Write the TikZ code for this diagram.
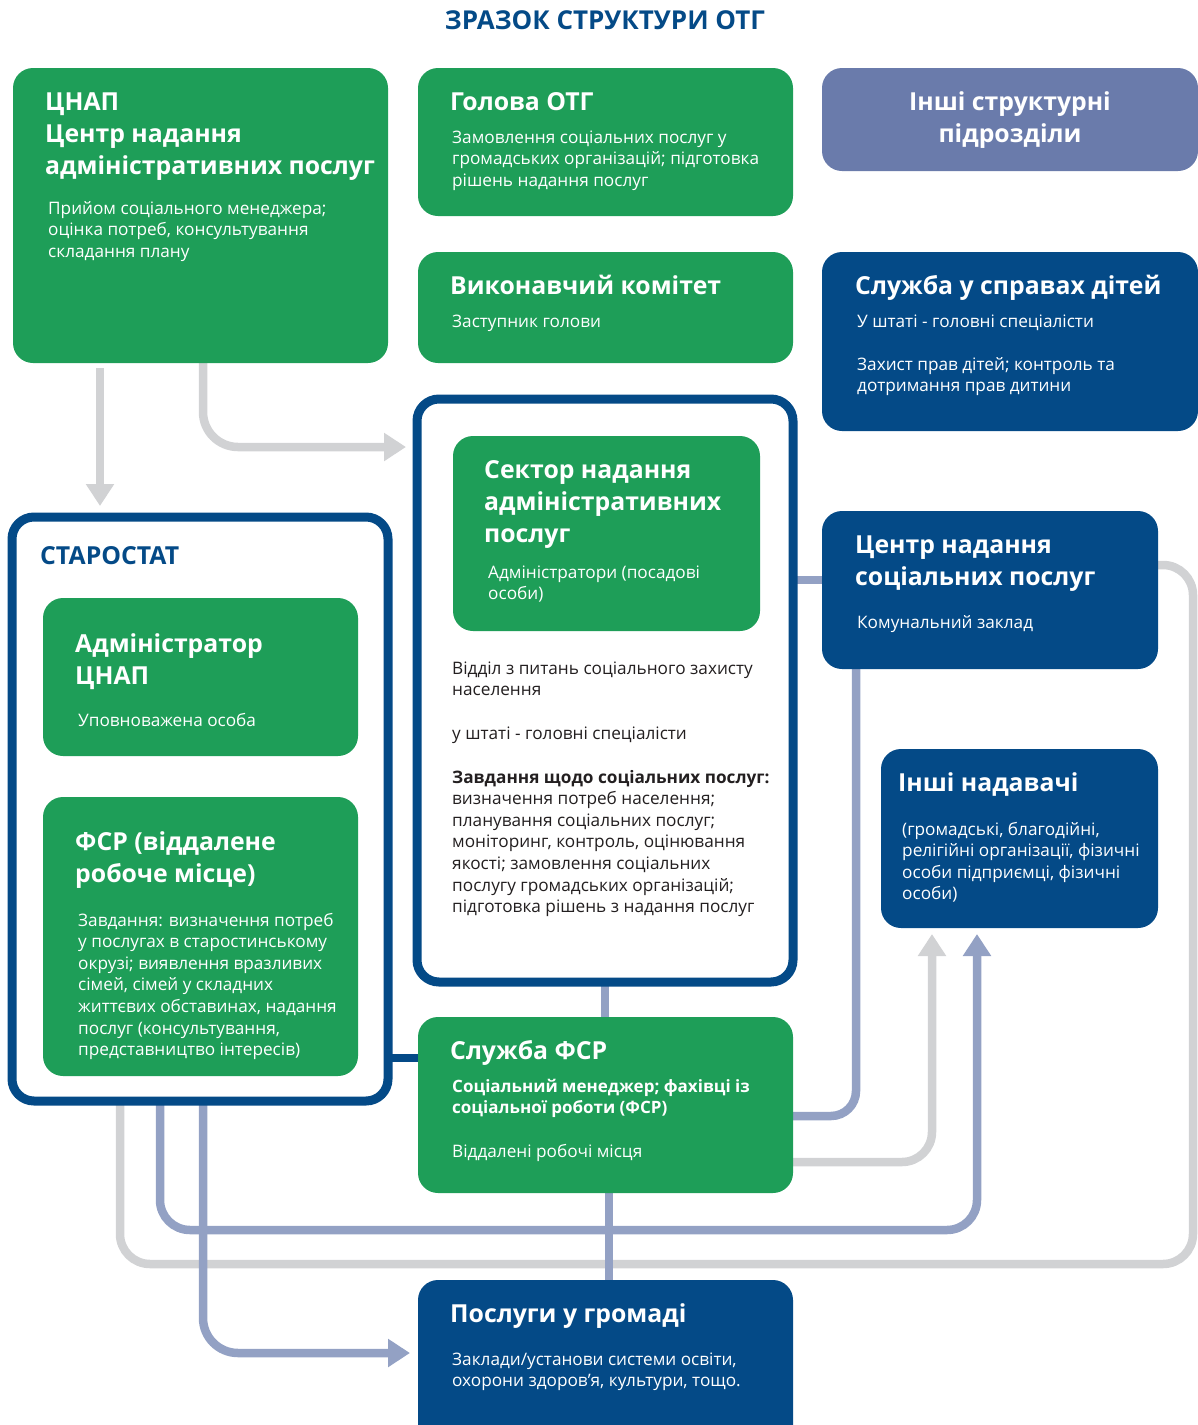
\documentclass[tikz,border=0pt]{standalone}
\usepackage{fontspec}
\setmainfont{Open Sans}
\usetikzlibrary{arrows.meta,calc}
\pgfdeclarelayer{bg}
\pgfsetlayers{bg,main}
\definecolor{gr}{HTML}{1E9E58}
\definecolor{db}{HTML}{044A87}
\definecolor{pb}{HTML}{6A7BAB}
\definecolor{pl}{HTML}{93A1C4}
\definecolor{gl}{HTML}{D1D2D4}
\definecolor{tx}{HTML}{231F20}
\newcommand{\ml}[1]{\begin{tabular}[t]{@{}l@{}}#1\end{tabular}}
\newcommand{\mc}[1]{\begin{tabular}[t]{@{}c@{}}#1\end{tabular}}
\begin{document}
\begin{tikzpicture}[x=1pt,y=-1pt,
  box/.style={rectangle, rounded corners=20pt, inner sep=0pt, outer sep=0pt, draw=none},
  gbox/.style={box, fill=gr},
  bbox/.style={box, fill=db},
  obox/.style={rectangle, rounded corners=22pt, inner sep=0pt, outer sep=0pt, draw=db, line width=9pt, fill=white},
  tl/.style={anchor=base west, inner sep=0pt, text=white, font=\bfseries\fontsize{24.8}{32}\selectfont},
  bd/.style={anchor=base west, inner sep=0pt, text=white, font=\fontsize{17.2}{21.6}\selectfont},
  bdk/.style={bd, text=tx},
  gline/.style={draw=gl, line width=8.5pt},
  pline/.style={draw=pl, line width=8.5pt},
  dline/.style={draw=db, line width=8pt},
  garr/.style={gline, -{Triangle[width=27pt,length=22pt]}},
  parr/.style={pline, -{Triangle[width=27pt,length=22pt]}},
]
\useasboundingbox (0,0) rectangle (1198,1425);

% boxes
\path
  node[gbox, minimum width=375, minimum height=295] (cnap) at (200.5,215.5) {}
  node[gbox, minimum width=375, minimum height=148] (golova) at (605.5,142) {}
  node[box, fill=pb, minimum width=376, minimum height=103] (inshi) at (1010,119.5) {}
  node[gbox, minimum width=375, minimum height=111] (vykon) at (605.5,307.5) {}
  node[bbox, minimum width=376, minimum height=179] (sdit) at (1010,341.5) {}
  node[obox, minimum width=376, minimum height=583] (cont) at (605,690.5) {}
  node[gbox, minimum width=307, minimum height=195] (sektor) at (606.5,533.5) {}
  node[bbox, minimum width=336, minimum height=158] (centr) at (990,590) {}
  node[obox, minimum width=376, minimum height=584] (staro) at (200,809) {}
  node[gbox, minimum width=315, minimum height=158] (admin) at (200.5,677) {}
  node[gbox, minimum width=315, minimum height=279] (fsr) at (200.5,936.5) {}
  node[bbox, minimum width=277, minimum height=179] (inad) at (1019.5,838.5) {}
  node[gbox, minimum width=375, minimum height=176] (sfsr) at (605.5,1105) {}
  node[bbox, minimum width=375, minimum height=165] (posl) at (605.5,1362.5) {};

% connectors
\begin{pgfonlayer}{bg}
  % grey
  \draw[gline, rounded corners=30pt] ($(staro.south west)+(108,0)$) |- ($(centr.south east)+(35,595)$) |- ($(centr.north east)+(0,54)$);
  \draw[garr, rounded corners=30pt] ($(sfsr.north east)+(0,145)$) -| ($(inad.south west)+(51,6)$);
  \draw[garr] ($(cnap.south west)+(87,5)$) -- ($(staro.north west)+(88,-11)$);
  \draw[garr, rounded corners=35pt] ($(cnap.south west)+(190,0)$) |- ($(cont.north west)+(-11,48)$);
  % purple
  \coordinate (pC) at ($(centr.north west)+(0,69)$);
  \draw[pline] (cont.east |- pC) -- (pC);
  \draw[pline] (cont.south) -- (cont.south |- sfsr.north);
  \coordinate (fA) at ($(sfsr.south)+(3.5,0)$);
  \draw[pline] (fA) -- (fA |- posl.north);
  \draw[pline, rounded corners=25pt] ($(sfsr.north east)+(0,99)$) -| ($(centr.south west)+(34,0)$);
  \draw[parr, rounded corners=30pt] ($(staro.south west)+(148,0)$) |- ($(inad.south west)+(96,302)$) -- ($(inad.south west)+(96,6)$);
  \draw[parr, rounded corners=35pt] ($(staro.south west)+(191,0)$) |- ($(posl.north west)+(-8,73)$);
  % dark
  \coordinate (dD) at ($(sfsr.north west)+(0,41)$);
  \draw[dline] (staro.east |- dD) -- (dD);
\end{pgfonlayer}

% texts
\node[anchor=base, inner sep=0pt, text=db, font=\bfseries\fontsize{26}{30}\selectfont] (title) at (605,29) {ЗРАЗОК СТРУКТУРИ ОТГ};

\node[tl] (t1) at (45,110) {\ml{ЦНАП\\Центр надання\\адміністративних послуг}};
\node[bd] (b1) at (48,214) {\ml{Прийом соціального менеджера;\\оцінка потреб, консультування\\складання плану}};

\node[tl] (t2) at (450,110) {Голова ОТГ};
\node[bd] (b2) at (452,143) {\ml{Замовлення соціальних послуг у\\громадських організацій; підготовка\\рішень надання послуг}};

\node[tl, anchor=base] (t3) at (1010,110) {\mc{Інші структурні\\підрозділи}};

\node[tl] (t4) at (450,294) {Виконавчий комітет};
\node[bd] (b4) at (452,327) {Заступник голови};

\node[tl] (t5) at (855,294) {Служба у справах дітей};
\node[bd] (b5) at (857,327) {У штаті - головні спеціалісти};
\node[bd] (b5b) at (857,370) {\ml{Захист прав дітей; контроль та\\дотримання прав дитини}};

\node[tl] (t6) at (484,478) {\ml{Сектор надання\\адміністративних\\послуг}};
\node[bd] (b6) at (488,578) {\ml{Адміністратори (посадові\\особи)}};

\node[bdk] (c1) at (452,674) {\ml{Відділ з питань соціального захисту\\населення}};
\node[bdk] (c2) at (452,739) {у штаті - головні спеціалісти};
\node[bdk] (c3) at (452,783) {\ml{\textbf{Завдання щодо соціальних послуг:}\\визначення потреб населення;\\планування соціальних послуг;\\моніторинг, контроль, оцінювання\\якості; замовлення соціальних\\послугу громадських організацій;\\підготовка рішень з надання послуг}};

\node[tl] (t7) at (855,553) {\ml{Центр надання\\соціальних послуг}};
\node[bd] (b7) at (857,628) {Комунальний заклад};

\node[tl, text=db] (t8) at (40,564) {СТАРОСТАТ};

\node[tl] (t9) at (75,652) {\ml{Адміністратор\\ЦНАП}};
\node[bd] (b9) at (78,726) {Уповноважена особа};

\node[tl] (t10) at (75,850) {\ml{ФСР (віддалене\\робоче місце)}};
\node[bd] (b10) at (78,926) {\ml{Завдання: визначення потреб\\у послугах в старостинському\\окрузі; виявлення вразливих\\сімей, сімей у складних\\життєвих обставинах, надання\\послуг (консультування,\\представництво інтересів)}};

\node[tl] (t11) at (450,1059) {Служба ФСР};
\node[bd, font=\bfseries\fontsize{17}{21.6}\selectfont] (b11) at (452,1092) {\ml{Соціальний менеджер; фахівці із\\соціальної роботи (ФСР)}};
\node[bd] (b11b) at (452,1157) {Віддалені робочі місця};

\node[tl] (t12) at (898,791) {Інші надавачі};
\node[bd] (b12) at (902,835) {\ml{(громадські, благодійні,\\релігійні організації, фізичні\\особи підприємці, фізичні\\особи)}};

\node[tl] (t13) at (450,1322) {Послуги у громаді};
\node[bd] (b13) at (452,1365) {\ml{Заклади/установи системи освіти,\\охорони здоров’я, культури, тощо.}};

\end{tikzpicture}
\end{document}
